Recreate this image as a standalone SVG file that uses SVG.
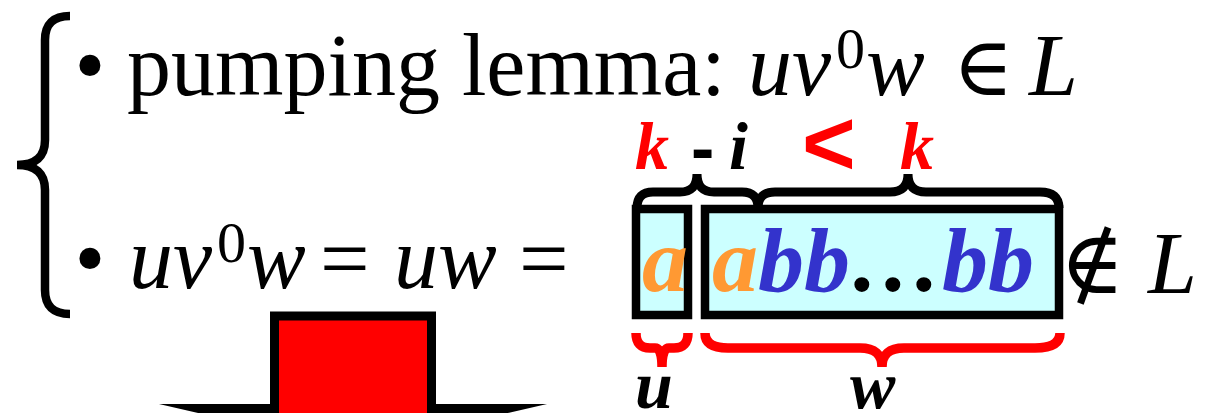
<svg xmlns="http://www.w3.org/2000/svg" width="1213" height="413" viewBox="0 0 1213 413">
<style>
text{font-family:"Liberation Serif","DejaVu Serif",serif;}
.t{font-size:88px;fill:#000;}
.it{font-style:italic;}
.sup{font-size:58px;fill:#000;}
.sym{font-size:82px;fill:#000;}
.bi{font-style:italic;font-weight:bold;}
.lab{font-size:68px;}
.box{font-size:92px;font-style:italic;font-weight:bold;}
.red{fill:#FF0000;}
.blk{fill:#000;}
.org{fill:#FF9933;}
.blu{fill:#3333CC;}
.sans{font-family:"Liberation Sans",Arial,sans-serif;font-weight:bold;}
.cell{fill:#CCFFFF;stroke:#000;stroke-width:8.5;}
.br{fill:none;stroke:#000;stroke-width:9;}
.rbr{fill:none;stroke:#FF0000;stroke-width:9.5;}
</style>
<g id="bigBrace">
<path d="M70,16 Q45,16 45,40 L45,140 Q45,165 17,165 Q45,165 45,190 L45,290 Q45,314 70,314" fill="none" stroke="#000" stroke-width="8.5"/>
</g>
<g id="line1">
<text class="t" x="90" y="95" text-anchor="middle">•</text>
<text class="t" x="127" y="95">pumping lemma:</text>
<text class="t it" x="748" y="95">uv</text>
<text class="sup" x="836" y="68">0</text>
<text class="t it" x="866" y="95">w</text>
<text class="sym" x="983" y="95" text-anchor="middle">∈</text>
<text class="t it" x="1029" y="95">L</text>
</g>
<g id="line2">
<text class="t" x="90" y="288" text-anchor="middle">•</text>
<text class="t it" x="129" y="288">uv</text>
<text class="sup" x="217" y="262">0</text>
<text class="t it" x="247" y="288">w</text>
<text class="t" x="320" y="288">=</text>
<text class="t it" x="394" y="288">uw</text>
<text class="t" x="519" y="288">=</text>
</g>
<g id="arrow">
<path d="M274.5,316 L431.5,316 L431.5,408.5 L507.4,408.5 L353,444 L198.6,408.5 L274.5,408.5 Z" fill="#FF0000" stroke="#000" stroke-width="9" stroke-linejoin="miter" stroke-miterlimit="12"/>
</g>
<g id="cellU">
<rect class="cell" x="636" y="209" width="52" height="106"/>
<text class="box org" x="665" y="291" text-anchor="middle">a</text>
</g>
<g id="cellW">
<rect class="cell" x="705" y="209" width="354" height="106"/>
<text class="box" x="712" y="291"><tspan class="org">a</tspan><tspan class="blu">bb</tspan><tspan class="blk">…</tspan><tspan class="blu">bb</tspan></text>
</g>
<g id="notin">
<text class="t" x="1092" y="293" text-anchor="middle">∉</text>
<text class="t it" x="1148" y="293">L</text>
</g>
<g id="connectors">
<path class="br" d="M637,208 Q637,192 653,192 L680,192 Q697,192 697,174 Q697,192 714,192 L742,192 Q758,192 758,208"/>
<path class="br" d="M758,208 Q758,192 775,192 L890,192 Q908,192 908,174 Q908,192 926,192 L1040,192 Q1059,192 1059,208"/>
<path class="rbr" d="M636,333 Q636,348 650,348 L655,348 Q662,348 662,367 Q662,348 669,348 L674,348 Q688,348 688,333"/>
<path class="rbr" d="M705,333 Q705,348 728,348 L860,348 Q882,348 882,367 Q882,348 904,348 L1035,348 Q1060,348 1060,333"/>
</g>
<g id="labels">
<text class="lab bi red" x="635" y="169">k</text>
<text class="sans blk" style="font-size:70px" x="691" y="172">-</text>
<text class="lab bi blk" x="729" y="169">i</text>
<text class="sans red" style="font-size:92px" x="802" y="175">&lt;</text>
<text class="lab bi red" x="900" y="169">k</text>
<text class="lab bi blk" x="635" y="408">u</text>
<text class="lab bi blk" x="850" y="408">w</text>
</g>
</svg>
